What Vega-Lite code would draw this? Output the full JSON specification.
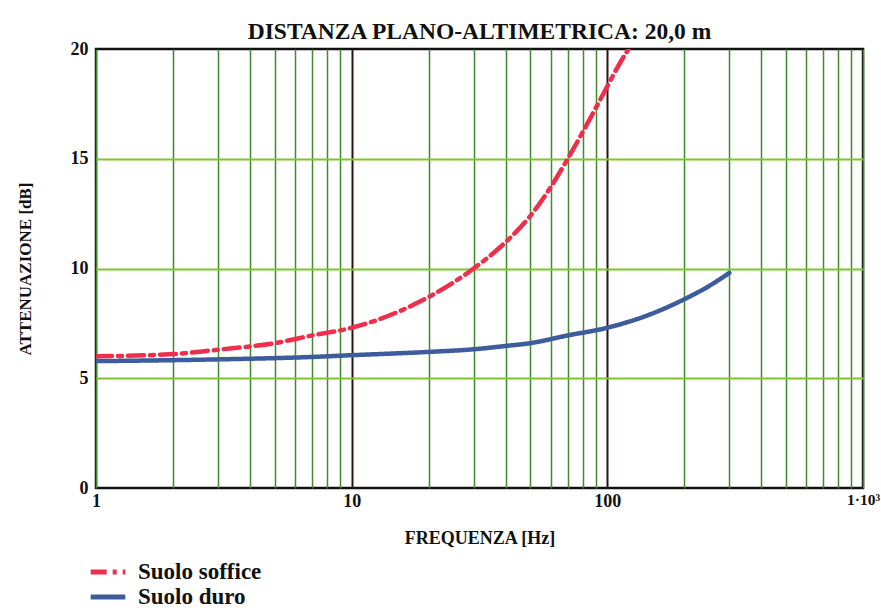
{
  "$schema": "https://vega.github.io/schema/vega-lite/v6.json",
  "width": 767,
  "height": 439,
  "autosize": {"type": "none"},
  "padding": {"left": 96, "top": 49, "right": 18, "bottom": 122},
  "background": "white",
  "config": {
    "view": {"stroke": "#111111", "strokeWidth": 2.5},
    "font": "Liberation Serif"
  },
  "title": {
    "text": "DISTANZA PLANO-ALTIMETRICA: 20,0 m",
    "font": "Liberation Serif",
    "fontSize": 23.5,
    "fontWeight": "bold",
    "color": "#111111",
    "anchor": "middle",
    "offset": -3
  },
  "data": {
    "values": [
      {"f": 1, "v": 6.0, "s": "Suolo soffice"},
      {"f": 2, "v": 6.1, "s": "Suolo soffice"},
      {"f": 3, "v": 6.3, "s": "Suolo soffice"},
      {"f": 5, "v": 6.6, "s": "Suolo soffice"},
      {"f": 7, "v": 6.95, "s": "Suolo soffice"},
      {"f": 10, "v": 7.3, "s": "Suolo soffice"},
      {"f": 15, "v": 8.0, "s": "Suolo soffice"},
      {"f": 20, "v": 8.7, "s": "Suolo soffice"},
      {"f": 30, "v": 10.0, "s": "Suolo soffice"},
      {"f": 40, "v": 11.2, "s": "Suolo soffice"},
      {"f": 50, "v": 12.4, "s": "Suolo soffice"},
      {"f": 60, "v": 13.7, "s": "Suolo soffice"},
      {"f": 70, "v": 15.0, "s": "Suolo soffice"},
      {"f": 80, "v": 16.2, "s": "Suolo soffice"},
      {"f": 90, "v": 17.3, "s": "Suolo soffice"},
      {"f": 100, "v": 18.3, "s": "Suolo soffice"},
      {"f": 110, "v": 19.2, "s": "Suolo soffice"},
      {"f": 121, "v": 20.0, "s": "Suolo soffice"},
      {"f": 1, "v": 5.78, "s": "Suolo duro"},
      {"f": 3, "v": 5.86, "s": "Suolo duro"},
      {"f": 7, "v": 5.97, "s": "Suolo duro"},
      {"f": 10, "v": 6.05, "s": "Suolo duro"},
      {"f": 20, "v": 6.2, "s": "Suolo duro"},
      {"f": 30, "v": 6.32, "s": "Suolo duro"},
      {"f": 40, "v": 6.47, "s": "Suolo duro"},
      {"f": 50, "v": 6.6, "s": "Suolo duro"},
      {"f": 70, "v": 6.95, "s": "Suolo duro"},
      {"f": 100, "v": 7.3, "s": "Suolo duro"},
      {"f": 150, "v": 7.95, "s": "Suolo duro"},
      {"f": 200, "v": 8.6, "s": "Suolo duro"},
      {"f": 250, "v": 9.2, "s": "Suolo duro"},
      {"f": 300, "v": 9.8, "s": "Suolo duro"}
    ]
  },
  "mark": {"type": "line", "strokeWidth": 4.5, "interpolate": "monotone", "clip": true, "strokeCap": "round"},
  "encoding": {
    "x": {
      "field": "f",
      "type": "quantitative",
      "scale": {"type": "log", "domain": [1, 1000], "nice": false},
      "axis": {
        "title": "FREQUENZA [Hz]",
        "titleFont": "Liberation Serif",
        "titleFontSize": 18,
        "titleFontWeight": "bold",
        "titleColor": "#111111",
        "titlePadding": 19,
        "values": [1, 2, 3, 4, 5, 6, 7, 8, 9, 10, 20, 30, 40, 50, 60, 70, 80, 90, 100, 200, 300, 400, 500, 600, 700, 800, 900, 1000],
        "labelExpr": "datum.value == 1 ? '1' : datum.value == 10 ? '10' : datum.value == 100 ? '100' : datum.value == 1000 ? '1·10³' : ''",
        "labelFont": "Liberation Serif",
        "labelFontSize": {"condition": {"test": "datum.value == 1000", "value": 15.5}, "value": 18},
        "labelFontWeight": "bold",
        "labelColor": "#111111",
        "labelPadding": 4,
        "labelFlush": false,
        "labelOverlap": false,
        "ticks": false,
        "domain": false,
        "grid": true,
        "gridColor": {"condition": {"test": "datum.value == 10 || datum.value == 100", "value": "#2a1414"}, "value": "#3f8a2c"},
        "gridWidth": {"condition": {"test": "datum.value == 10 || datum.value == 100", "value": 2}, "value": 1.5},
        "gridOpacity": 1
      }
    },
    "y": {
      "field": "v",
      "type": "quantitative",
      "scale": {"domain": [0, 20], "nice": false},
      "axis": {
        "title": "ATTENUAZIONE [dB]",
        "titleFont": "Liberation Serif",
        "titleFontSize": 17,
        "titleFontWeight": "bold",
        "titleColor": "#111111",
        "titlePadding": 36,
        "values": [0, 5, 10, 15, 20],
        "labelFont": "Liberation Serif",
        "labelFontSize": 18,
        "labelFontWeight": "bold",
        "labelColor": "#111111",
        "labelPadding": 8,
        "labelFlush": false,
        "ticks": false,
        "domain": false,
        "grid": true,
        "gridColor": {"condition": {"test": "datum.value == 0 || datum.value == 20", "value": "transparent"}, "value": "#7cc62a"},
        "gridWidth": 1.8,
        "gridOpacity": 1
      }
    },
    "color": {
      "field": "s",
      "type": "nominal",
      "scale": {"domain": ["Suolo soffice", "Suolo duro"], "range": ["#ef2d4c", "#3d5c9c"]},
      "legend": {
        "title": null,
        "orient": "none",
        "legendX": -8,
        "legendY": 512,
        "symbolType": "stroke",
        "symbolSize": 1200,
        "symbolStrokeWidth": 5,
        "labelFont": "Liberation Serif",
        "labelFontSize": 23,
        "labelFontWeight": "bold",
        "labelColor": "#111111",
        "clipHeight": 22,
        "rowPadding": 2,
        "labelOffset": 10
      }
    },
    "strokeDash": {
      "field": "s",
      "type": "nominal",
      "scale": {"domain": ["Suolo soffice", "Suolo duro"], "range": [[16, 6, 4, 6], [1, 0]]},
      "legend": null
    }
  }
}
